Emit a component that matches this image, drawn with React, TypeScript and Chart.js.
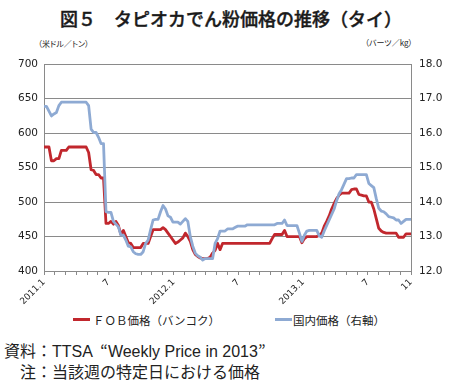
import React, { useEffect, useRef } from "react";
import { Chart, registerables } from "chart.js";

Chart.register(...registerables);

// Weekly FOB price, Bangkok (USD/t), Jan 2011 – early Nov 2013
const fobPrice = [
  580, 580, 580, 560, 560, 563, 563, 575, 575, 575,
  580, 580, 580, 580, 580, 580, 580, 580, 572, 547,
  546, 540, 540, 535, 535, 469, 469, 472, 468, 472,
  466, 453, 459, 450, 441, 440, 434, 434, 434, 434,
  440, 440, 440, 450, 460, 460, 460, 460, 463, 460,
  455, 450, 445, 440, 442, 445, 448, 455, 450, 443,
  431, 424, 421, 419, 418, 418, 418, 420, 426, 430,
  440, 431, 440, 440, 440, 440, 440, 440, 440, 440,
  440, 440, 440, 440, 440, 440, 440, 440, 440, 440,
  440, 440, 447, 453, 453, 453, 453, 459, 450, 450,
  450, 450, 450, 450, 441, 447, 450, 450, 450, 450,
  450, 452, 455, 465, 472, 480, 490, 498, 505, 510,
  513, 513, 513, 513, 518, 519, 519, 511, 510, 509,
  509, 500, 500, 490, 476, 462, 458, 456, 455, 455,
  455, 455, 455, 449, 449, 449, 454, 454, 454,
];

// Weekly domestic price (baht/kg, right axis)
const domesticPrice = [
  16.78, 16.78, 16.64, 16.5, 16.56, 16.6, 16.8, 16.9, 16.9, 16.9,
  16.9, 16.9, 16.9, 16.9, 16.9, 16.9, 16.9, 16.9, 16.8, 16.12,
  16.02, 16.02, 15.88, 15.7, 15.7, 13.72, 13.7, 13.7, 13.44, 13.36,
  13.28, 13.04, 13.04, 12.9, 12.72, 12.7, 12.56, 12.5, 12.48, 12.48,
  12.56, 12.8, 12.9, 13.2, 13.48, 13.5, 13.5, 13.72, 13.9, 13.8,
  13.6, 13.56, 13.42, 13.42, 13.42, 13.36, 13.44, 13.52, 13.44, 13.0,
  12.72, 12.52, 12.44, 12.4, 12.32, 12.36, 12.36, 12.36, 12.36, 12.8,
  12.94, 13.16, 13.16, 13.16, 13.22, 13.22, 13.22, 13.26, 13.3, 13.3,
  13.3, 13.3, 13.34, 13.34, 13.34, 13.34, 13.34, 13.34, 13.34, 13.34,
  13.34, 13.34, 13.34, 13.34, 13.38, 13.38, 13.38, 13.48, 13.32, 13.32,
  13.32, 13.32, 13.32, 13.1, 12.86, 13.04, 13.16, 13.18, 13.18, 13.18,
  13.18, 13.02, 12.98, 13.16, 13.32, 13.48, 13.64, 13.8, 14.04, 14.24,
  14.36, 14.52, 14.68, 14.68, 14.7, 14.7, 14.8, 14.8, 14.8, 14.8,
  14.8, 14.54, 14.48, 14.42, 14.1, 13.82, 13.74, 13.72, 13.66, 13.58,
  13.56, 13.54, 13.48, 13.48, 13.38, 13.44, 13.5, 13.5, 13.5,
];

const totalMonths = 34; // Jan 2011 .. Nov 2013
const xTickMonths = [0, 6, 12, 18, 24, 30, 34];
const xTickLabels = ["2011.1", "7", "2012.1", "7", "2013.1", "7", "11"];

const RED = "#c1272d";
const BLUE = "#8eaad3";
const GRID = "#8a8a8a";
const TEXT = "#222";

export default function App() {
  const ref = useRef<HTMLCanvasElement>(null);

  useEffect(() => {
    document.body.style.margin = "0";
    const lastIdx = fobPrice.length - 1;
    const chart = new Chart(ref.current as HTMLCanvasElement, {
      type: "line",
      data: {
        datasets: [
          {
            label: "国内価格（右軸）",
            data: domesticPrice.map((v, i) => ({ x: i, y: v })),
            yAxisID: "y2",
            borderColor: BLUE,
            borderWidth: 2.8,
            pointRadius: 0,
            tension: 0,
            borderJoinStyle: "round",
            order: 0,
          },
          {
            label: "ＦＯＢ価格（バンコク）",
            data: fobPrice.map((v, i) => ({ x: i, y: v })),
            yAxisID: "y",
            borderColor: RED,
            borderWidth: 2.8,
            pointRadius: 0,
            tension: 0,
            borderJoinStyle: "round",
            order: 1,
          },
        ],
      },
      options: {
        animation: false,
        responsive: false,
        devicePixelRatio: 1,
        layout: { padding: { top: 11, left: 0, right: 0, bottom: 0 } },
        plugins: { legend: { display: false }, tooltip: { enabled: false } },
        scales: {
          x: {
            type: "linear",
            min: 0,
            max: lastIdx,
            afterBuildTicks: (s: any) => {
              const ticks = [];
              for (let m = 0; m <= totalMonths; m++) {
                ticks.push({ value: (m * lastIdx) / totalMonths });
              }
              s.ticks = ticks;
            },
            afterFit: (s: any) => {
              s.height = 34;
            },
            ticks: {
              autoSkip: false,
              minRotation: 45,
              maxRotation: 45,
              padding: 2,
              color: TEXT,
              font: { family: "DejaVu Sans", size: 9 },
              callback: (_v: any, i: number) => {
                const k = xTickMonths.indexOf(i);
                return k >= 0 ? xTickLabels[k] : "";
              },
            },
            grid: { drawOnChartArea: false, drawTicks: true, tickLength: 4, color: GRID },
            border: { color: GRID },
          },
          y: {
            position: "left",
            min: 400,
            max: 700,
            afterFit: (s: any) => {
              s.width = 44;
            },
            ticks: {
              stepSize: 50,
              padding: 6,
              color: TEXT,
              font: { family: "DejaVu Sans", size: 10.5 },
            },
            grid: { color: GRID, drawTicks: false },
            border: { color: GRID },
          },
          y2: {
            position: "right",
            min: 12,
            max: 18,
            afterFit: (s: any) => {
              s.width = 39;
            },
            ticks: {
              stepSize: 1,
              padding: 8,
              color: TEXT,
              font: { family: "DejaVu Sans", size: 10.5 },
              callback: (v: any) => Number(v).toFixed(1),
            },
            grid: { drawOnChartArea: false, drawTicks: false },
            border: { color: GRID },
          },
        },
      },
    } as any);
    return () => chart.destroy();
  }, []);

  const jp = "'Noto Sans CJK JP', sans-serif";
  const quote = (align: "left" | "right") => ({
    fontFamily: jp,
    display: "inline-block",
    width: 15,
    textAlign: align,
  });
  return (
    <div
      style={{
        position: "relative",
        width: 450,
        height: 386,
        background: "#fff",
        overflow: "hidden",
        color: TEXT,
        fontFamily: jp,
      }}
    >
      <div
        style={{
          position: "absolute",
          left: 60,
          top: 7,
          fontSize: 18,
          lineHeight: "22px",
          fontWeight: 500,
          color: "#1a1a1a",
          whiteSpace: "nowrap",
          WebkitTextStroke: "0.4px #1a1a1a",
        }}
      >
        図５　タピオカでん粉価格の推移（タイ）
      </div>
      <div
        style={{
          position: "absolute",
          left: 38,
          top: 38,
          fontSize: 8,
          lineHeight: "12px",
          fontFeatureSettings: "'palt'",
          whiteSpace: "nowrap",
        }}
      >
        （米ドル／トン）
      </div>
      <div
        style={{
          position: "absolute",
          left: 365,
          top: 37,
          fontSize: 8,
          lineHeight: "12px",
          fontFeatureSettings: "'palt'",
          whiteSpace: "nowrap",
        }}
      >
        （バーツ／kg）
      </div>
      <div style={{ position: "absolute", left: 0, top: 50, width: 450, height: 255 }}>
        <canvas ref={ref} width={450} height={255} style={{ display: "block" }} />
      </div>
      <div style={{ position: "absolute", left: 73, top: 318, width: 17, height: 3, background: RED }} />
      <div
        style={{
          position: "absolute",
          left: 93,
          top: 312,
          fontSize: 11.5,
          lineHeight: "16px",
          whiteSpace: "nowrap",
        }}
      >
        ＦＯＢ価格（バンコク）
      </div>
      <div style={{ position: "absolute", left: 275, top: 318, width: 17, height: 3, background: BLUE }} />
      <div
        style={{
          position: "absolute",
          left: 293,
          top: 312,
          fontSize: 11.5,
          lineHeight: "16px",
          whiteSpace: "nowrap",
        }}
      >
        国内価格（右軸）
      </div>
      <div
        style={{
          position: "absolute",
          left: 4,
          top: 339,
          fontSize: 16,
          lineHeight: "22px",
          whiteSpace: "nowrap",
          fontFamily: "'Liberation Sans', 'Noto Sans CJK JP', sans-serif",
        }}
      >
        資料：TTSA<span style={quote("right") as any}>“</span>Weekly Price in 2013
        <span style={quote("left") as any}>”</span>
      </div>
      <div
        style={{
          position: "absolute",
          left: 20,
          top: 360,
          fontSize: 16,
          lineHeight: "22px",
          whiteSpace: "nowrap",
        }}
      >
        注：当該週の特定日における価格
      </div>
    </div>
  );
}
